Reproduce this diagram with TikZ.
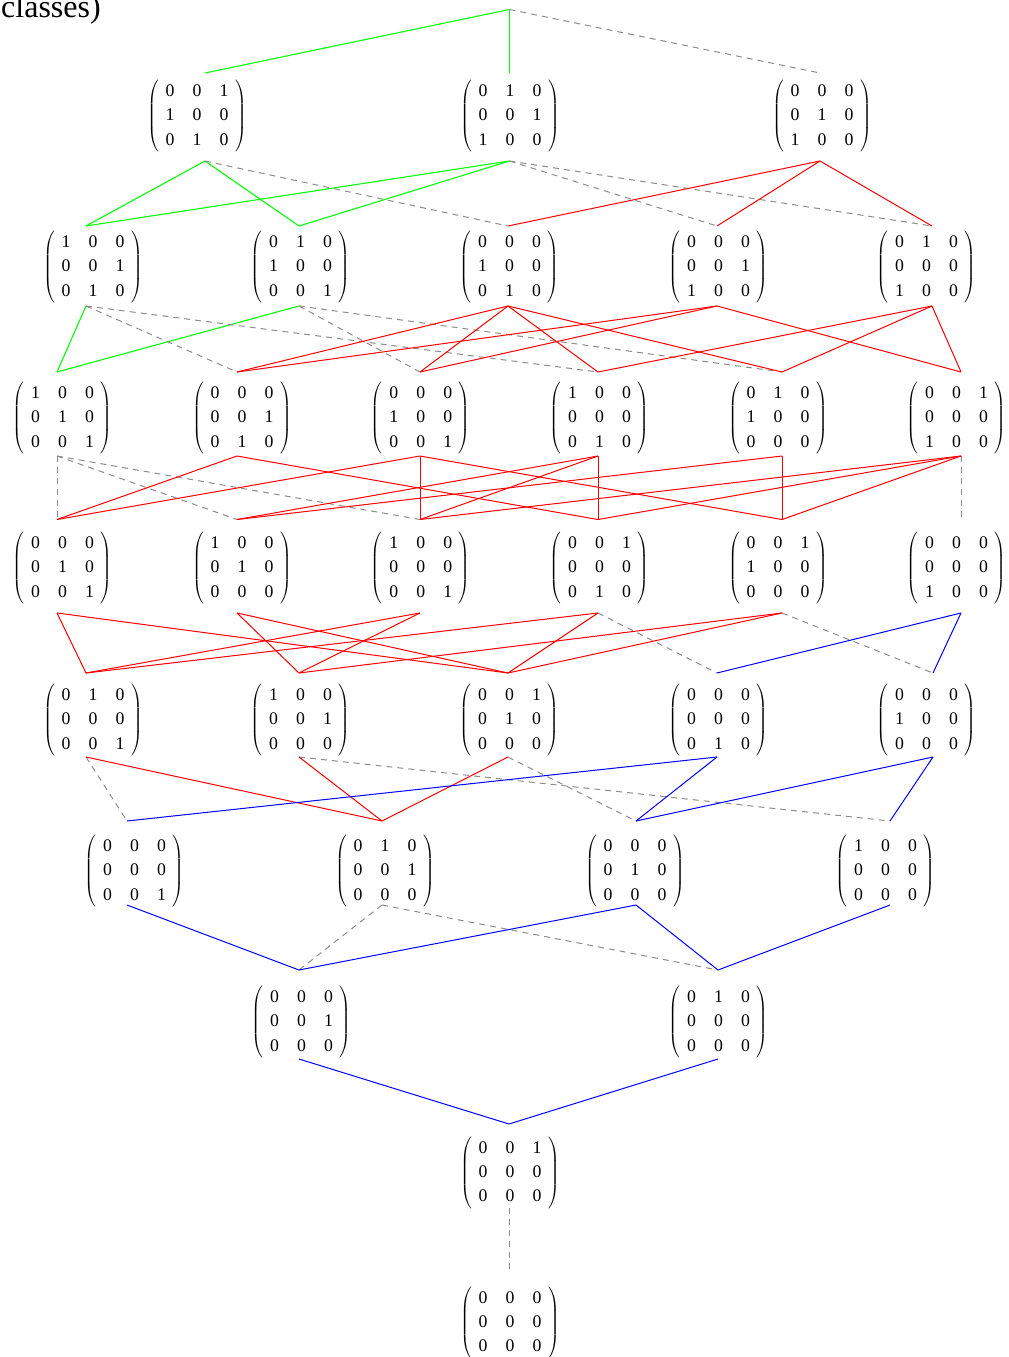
\documentclass[tikz,border=0pt]{standalone}
\usepackage{fontspec}
\setmainfont{Liberation Serif}
\definecolor{dgray}{RGB}{140,140,140}
\def\mrow#1#2#3{#1&#2&#3}
\newlength\mpad \setlength\mpad{5pt}
\def\rowlow{0pt}
\newcommand\Mat[4]{%
  \pgfmathsetlengthmacro\mleft{max(0,1.5*(#1))}%
  \pgfmathsetlengthmacro\mright{max(0,-1.5*(#1))}%
  \kern\mleft\raisebox{\rowlow}[\height][\depth]{$\left(\vcenter{\hbox{\setlength\tabcolsep{6.8pt}%
  \begin{tabular}{@{\hskip\mpad}ccc@{\hskip\mpad}}\mrow#2\\\mrow#3\\\mrow#4\end{tabular}}}\right)$}\kern\mright}
\tikzset{
  mat/.style={inner sep=0pt, outer sep=0pt, minimum width=20pt,
    font=\fontsize{13.3pt}{18.2pt}\selectfont},
  r1/.style={mat, minimum height=66pt, execute at begin node={\def\rowlow{0.75pt}}},
  r2/.style={mat, minimum height=60pt, execute at begin node={\def\rowlow{-0.75pt}}},
  r3/.style={mat, minimum height=63pt, execute at begin node={\def\rowlow{-3pt}}},
  r4/.style={mat, minimum height=70.1pt, execute at begin node={\def\rowlow{-1.3pt}}},
  r5/.style={mat, minimum height=63pt, execute at begin node={\def\rowlow{-3.75pt}}},
  r6/.style={mat, minimum height=63pt, execute at begin node={\def\rowlow{-6pt}}},
  r7/.style={mat, minimum height=66.75pt, execute at begin node={\def\rowlow{-5.6pt}}},
  r8/.style={mat, minimum height=63pt, execute at begin node={\def\rowlow{-4.9pt}}},
  r9/.style={mat, minimum height=63pt, execute at begin node={\def\rowlow{-5.6pt}}},
  eg/.style={draw={rgb,255:red,0;green,255;blue,0}, line width=0.8pt},
  er/.style={draw=red, line width=0.75pt},
  eb/.style={draw=blue, line width=0.75pt},
  ed/.style={draw=dgray, line width=0.75pt, dash pattern=on 4.5pt off 3.75pt},
}
\begin{document}
\begin{tikzpicture}[x=0.75pt,y=-0.75pt]
\useasboundingbox (0,0) rectangle (1009,1357);
\node[font=\fontsize{24pt}{28pt}\selectfont, anchor=base east, inner sep=0pt] (title) at (101,17.5) {-classes)};
\coordinate (T) at (509.5,9.5);
% row 1
\node[r1] (A1) at (205,117) {\Mat{-8}{001}{100}{010}};
\node[r1] (A2) at (509.5,117) {\Mat{0.5}{010}{001}{100}};
\node[r1] (A3) at (820,117) {\Mat{2}{000}{010}{100}};
% row 2
\node[r2] (B1) at (86,266) {\Mat{7}{100}{001}{010}};
\node[r2] (B2) at (299,266) {\Mat{1.5}{010}{100}{001}};
\node[r2] (B3) at (508,266) {\Mat{1.5}{000}{100}{010}};
\node[r2] (B4) at (717,266) {\Mat{1.5}{000}{001}{100}};
\node[r2] (B5) at (932,266) {\Mat{-5.5}{010}{000}{100}};
% row 3
\node[r3] (C1) at (57,414) {\Mat{5.5}{100}{010}{001}};
\node[r3] (C2) at (237,414) {\Mat{5}{000}{001}{010}};
\node[r3] (C3) at (420,414) {\Mat{0.7}{000}{100}{001}};
\node[r3] (C4) at (598,414) {\Mat{1.5}{100}{000}{010}};
\node[r3] (C5) at (782,414) {\Mat{-4}{010}{100}{000}};
\node[r3] (C6) at (961,414) {\Mat{-4.5}{001}{000}{100}};
% row 4
\node[r4] (D1) at (57,566.25) {\Mat{5.5}{000}{010}{001}};
\node[r4] (D2) at (237,566.25) {\Mat{5}{100}{010}{000}};
\node[r4] (D3) at (420,566.25) {\Mat{0.7}{100}{000}{001}};
\node[r4] (D4) at (598,566.25) {\Mat{1.5}{001}{000}{010}};
\node[r4] (D5) at (782,566.25) {\Mat{-4}{001}{100}{000}};
\node[r4] (D6) at (961,566.25) {\Mat{-4.5}{000}{000}{100}};
% row 5
\node[r5] (E1) at (86,715) {\Mat{7}{010}{000}{001}};
\node[r5] (E2) at (299,715) {\Mat{1.5}{100}{001}{000}};
\node[r5] (E3) at (508,715) {\Mat{1.5}{001}{010}{000}};
\node[r5] (E4) at (717,715) {\Mat{1.5}{000}{000}{010}};
\node[r5] (E5) at (933,715) {\Mat{-6.5}{000}{100}{000}};
% row 6
\node[r6] (F1) at (127,863) {\Mat{7.6}{000}{000}{001}};
\node[r6] (F2) at (382,863) {\Mat{3}{010}{001}{000}};
\node[r6] (F3) at (636,863) {\Mat{-1}{000}{010}{000}};
\node[r6] (F4) at (890,863) {\Mat{-4.5}{100}{000}{000}};
% row 7
\node[r7] (G1) at (299,1014.5) {\Mat{2.6}{000}{001}{000}};
\node[r7] (G2) at (718,1014.5) {\Mat{0.5}{010}{000}{000}};
% row 8, 9
\node[r8] (H) at (509,1166) {\Mat{1}{001}{000}{000}};
\node[r9] (I) at (509,1315) {\Mat{1}{000}{000}{000}};
% edges
\draw[eg] (T) -- (A1.north);
\draw[eg] (T) -- (A2.north);
\draw[ed] (T) -- (A3.north);
\foreach \a/\b in {A1/B1, A1/B2, A2/B1, A2/B2, B1/C1, B2/C1}
  \draw[eg] (\a.south) -- (\b.north);
\foreach \a/\b in {A1/B3, A2/B4, A2/B5, B1/C2, B1/C4, B2/C3, B2/C5, C1/D1, C1/D2, C1/D3,
  C6/D6, D4/E4, D5/E5, E1/F1, E2/F4, E3/F3, F2/G1, F2/G2, H/I}
  \draw[ed] (\a.south) -- (\b.north);
\foreach \a/\b in {A3/B3, A3/B4, A3/B5, B3/C2, B3/C3, B3/C4, B3/C5, B4/C2, B4/C3, B4/C6,
  B5/C4, B5/C5, B5/C6, C2/D1, C2/D4, C3/D1, C3/D3, C3/D5, C4/D2, C4/D3, C4/D4, C5/D2, C5/D5,
  C6/D3, C6/D4, C6/D5, D1/E1, D1/E3, D2/E2, D2/E3, D3/E1, D3/E2, D4/E1, D4/E3, D5/E2, D5/E3,
  E1/F2, E2/F2, E3/F2}
  \draw[er] (\a.south) -- (\b.north);
\foreach \a/\b in {D6/E4, D6/E5, E4/F1, E4/F3, E5/F3, E5/F4, F1/G1, F3/G1, F3/G2, F4/G2, G1/H, G2/H}
  \draw[eb] (\a.south) -- (\b.north);
\end{tikzpicture}
\end{document}
